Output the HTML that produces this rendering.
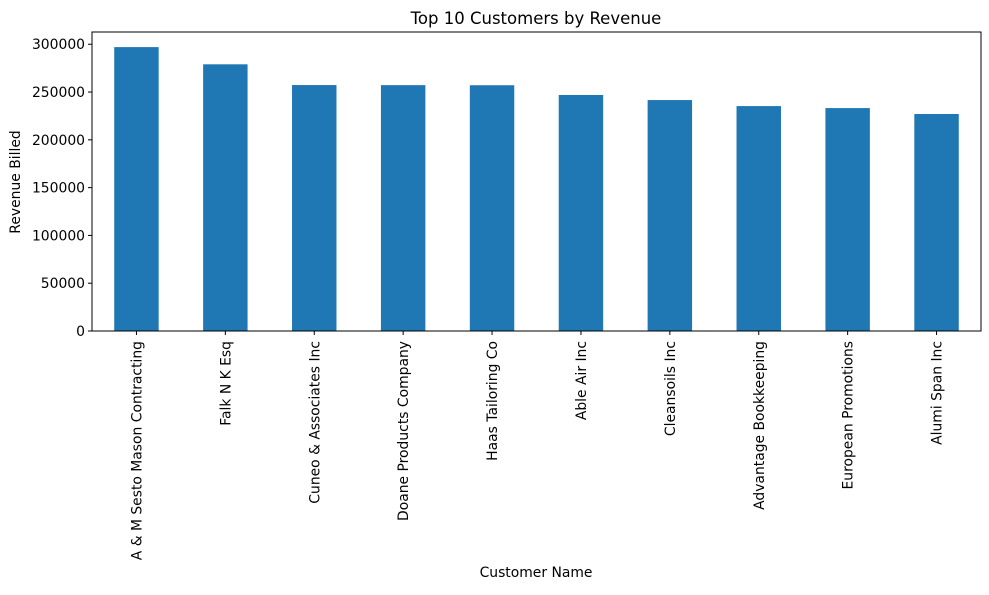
<!DOCTYPE html>
<html><head><meta charset="utf-8"><style>
body{margin:0;background:#fff;}
svg{font-family:"DejaVu Sans","Liberation Sans",sans-serif;}
</style></head><body>
<svg id="chart" width="989" height="590" xmlns="http://www.w3.org/2000/svg">
<rect width="989" height="590" fill="#fff"/>
<text x="536" y="24" text-anchor="middle" font-size="16.5" fill="#000">Top 10 Customers by Revenue</text>
<g id="bars"></g><g id="yaxis"></g><g id="xaxis"></g>
<rect x="92" y="32" width="889" height="299" fill="none" stroke="#000" stroke-width="1"/>
<text transform="translate(20,182) rotate(-90)" text-anchor="middle" font-size="13.9">Revenue Billed</text>
<text x="536" y="577" text-anchor="middle" font-size="13.9">Customer Name</text>
</svg>
<script>
const categories=["A & M Sesto Mason Contracting","Falk N K Esq","Cuneo & Associates Inc","Doane Products Company","Haas Tailoring Co","Able Air Inc","Cleansoils Inc","Advantage Bookkeeping","European Promotions","Alumi Span Inc"];
const revenue=[297000,279000,257300,257200,257100,246900,241600,235300,233200,227000];
const yTicks=[0,50000,100000,150000,200000,250000,300000];
const L=92,R=981,T=32,B=331,YMAX=312800;
const ns="http://www.w3.org/2000/svg";
const y=v=>B-(v/YMAX)*(B-T);
const step=(R-L)/categories.length;
const x=i=>L+step*(i+0.5);
function mk(t,a,p){const e=document.createElementNS(ns,t);for(const k in a)e.setAttribute(k,a[k]);document.getElementById(p).appendChild(e);return e;}
revenue.forEach((v,i)=>{
 const r=mk('rect',{x:x(i)-step*0.25,y:y(v),width:step*0.5,height:B-y(v),fill:'#1f77b4'},'bars');
 
 
});
yTicks.forEach(t=>{
 const l=mk('line',{x1:L-4,x2:L,y1:y(t),y2:y(t),stroke:'#000'},'yaxis');
 
 
 const s=mk('text',{x:L-7,y:y(t)+5,'text-anchor':'end','font-size':'13.9'},'yaxis');
 s.textContent=t;
 
 
});
categories.forEach((c,i)=>{
 const l=mk('line',{x1:x(i),x2:x(i),y1:B,y2:B+4,stroke:'#000'},'xaxis');
 
 
 const s=mk('text',{transform:`translate(${x(i)+5},${B+10}) rotate(-90)`,'text-anchor':'end','font-size':'13.9'},'xaxis');
 s.textContent=c;
 
 
});
</script>
</body></html>
